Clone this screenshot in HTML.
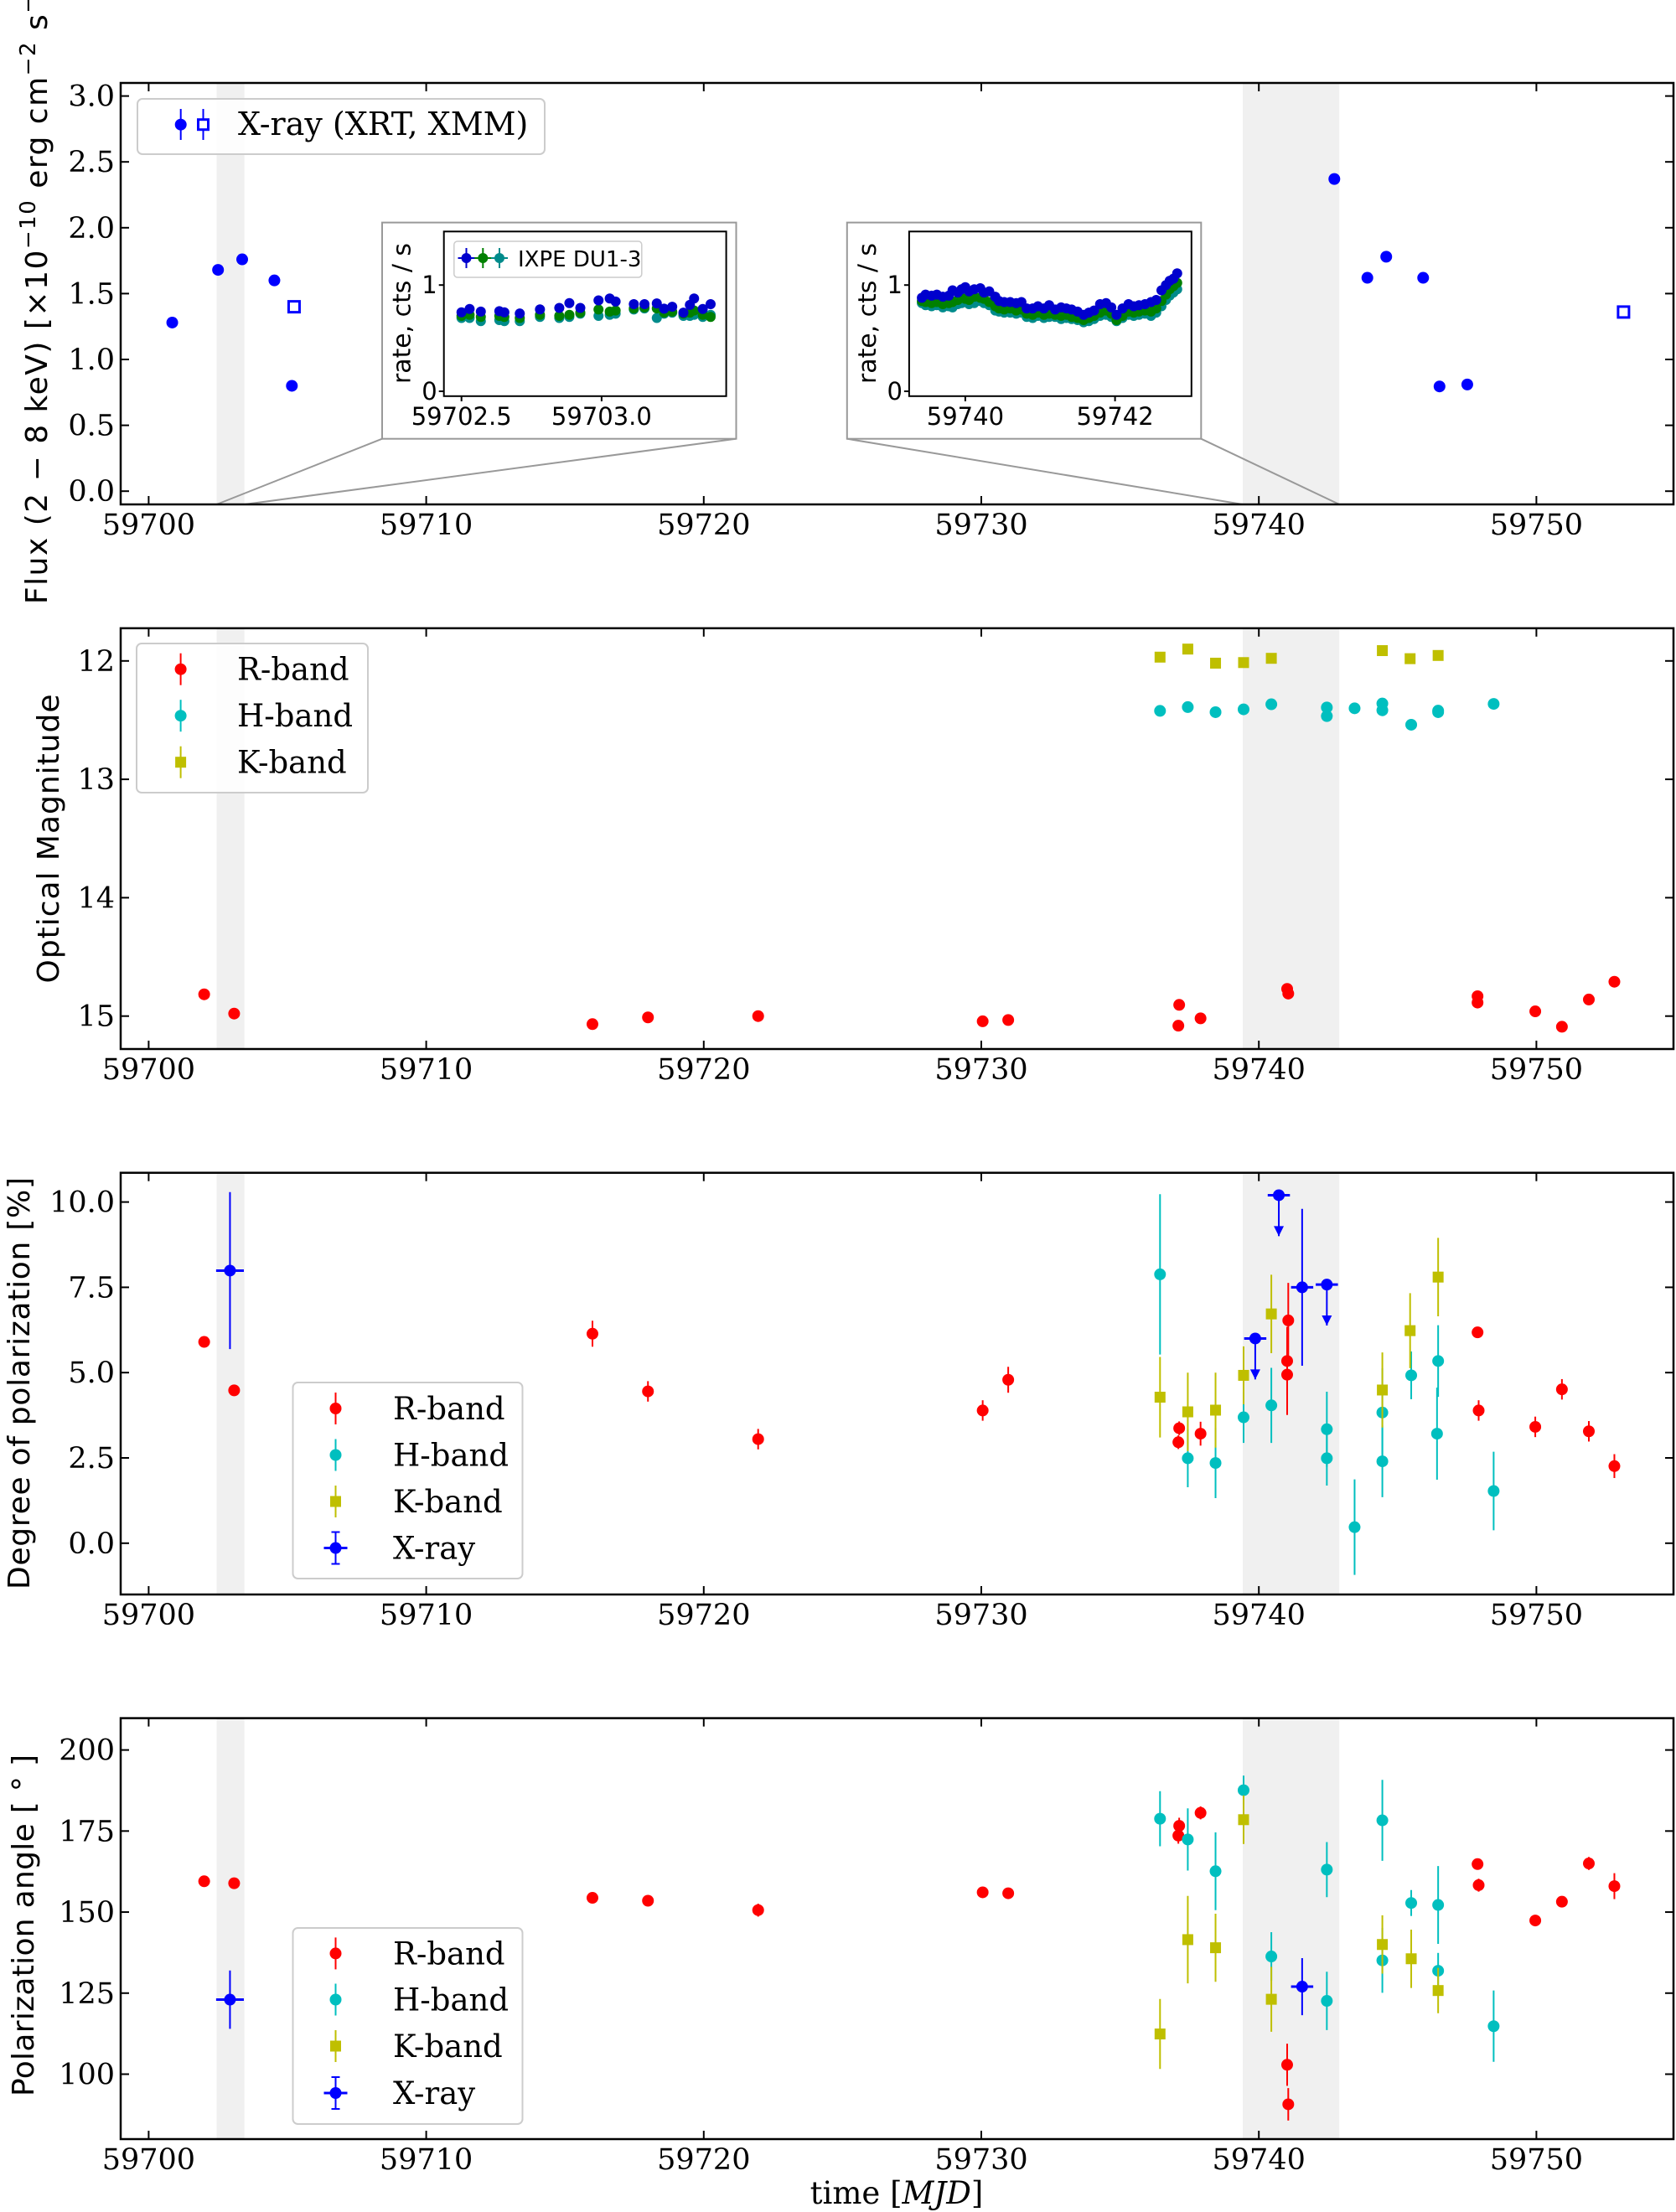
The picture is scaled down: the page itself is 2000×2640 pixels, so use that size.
<!DOCTYPE html>
<html><head><meta charset="utf-8"><style>
html,body{margin:0;padding:0;background:#fff;}
svg{display:block;}
.tk{font-family:"DejaVu Serif","Liberation Serif",serif;font-size:35px;fill:#000;}
.lg{font-family:"DejaVu Serif","Liberation Serif",serif;font-size:37px;fill:#000;}
.yl{font-family:"DejaVu Sans","Liberation Sans",sans-serif;font-size:36px;fill:#000;}
.it{font-family:"DejaVu Sans","Liberation Sans",sans-serif;font-size:29px;fill:#000;}
</style></head><body>
<svg id="fig" xmlns="http://www.w3.org/2000/svg" width="2000" height="2640" viewBox="0 0 2000 2640">
<rect x="0" y="0" width="2000" height="2640" fill="#fff"/>
</svg>
<script>
// ---- data ----
const xTicks = [59700, 59710, 59720, 59730, 59740, 59750];
const bandsShade = [[59702.45, 59703.45], [59739.42, 59742.9]];

const xrtT = [59700.85, 59702.5, 59703.37, 59704.53, 59705.16, 59742.72, 59743.91, 59744.59, 59745.92, 59746.51, 59747.51];
const xrtF = [1.28, 1.68, 1.76, 1.60, 0.80, 2.37, 1.62, 1.78, 1.62, 0.795, 0.81];
const xmmT = [59705.24, 59753.14];
const xmmF = [1.40, 1.36];
const fluxTicks = [0, 0.5, 1.0, 1.5, 2.0, 2.5, 3.0];
const fluxLabels = ["0.0", "0.5", "1.0", "1.5", "2.0", "2.5", "3.0"];

const in1T = [0, .029, .069, .135, .153, .208, .28, .349, .385, .424, .489, .529, .55, .615, .653, .697, .723, .752, .792, .815, .83, .861, .889];
const in1B = [.743, .775, .75, .754, .743, .732, .771, .785, .83, .785, .856, .873, .845, .82, .82, .827, .778, .796, .74, .813, .873, .775, .82];
const in1G = [.71, .72, .70, .71, .70, .69, .72, .71, .72, .74, .77, .75, .76, .78, .79, .78, .74, .75, .73, .74, .76, .72, .70];
const in1C = [.69, .69, .66, .67, .66, .66, .70, .69, .70, .73, .71, .72, .73, .77, .78, .69, .73, .74, .71, .71, .72, .70, .72];
const in2T = [59739.42, 59739.47, 59739.55, 59739.62, 59739.7, 59739.78, 59739.83, 59739.9, 59739.95, 59740.0, 59740.05, 59740.12, 59740.2, 59740.25, 59740.32, 59740.4, 59740.45, 59740.52, 59740.6, 59740.68, 59740.75, 59740.82, 59740.9, 59740.97, 59741.05, 59741.12, 59741.2, 59741.28, 59741.35, 59741.42, 59741.5, 59741.58, 59741.65, 59741.72, 59741.8, 59741.88, 59741.95, 59742.02, 59742.1, 59742.18, 59742.25, 59742.32, 59742.4, 59742.48, 59742.55, 59742.62, 59742.68, 59742.73, 59742.78, 59742.83];
const in2B = [.88, .91, .90, .91, .89, .90, .95, .93, .96, .98, .94, .96, .97, .93, .94, .89, .85, .84, .84, .83, .84, .78, .78, .80, .78, .81, .77, .79, .78, .77, .75, .72, .74, .76, .82, .83, .79, .72, .78, .82, .80, .81, .82, .84, .86, .95, 1.0, 1.04, 1.06, 1.11];
const in2G = [.85, .84, .83, .84, .82, .83, .84, .86, .88, .87, .86, .89, .88, .87, .84, .80, .78, .77, .78, .76, .77, .73, .72, .74, .72, .73, .72, .71, .72, .70, .69, .67, .69, .71, .74, .76, .73, .67, .71, .75, .74, .75, .76, .75, .78, .85, .91, .96, .99, 1.02];
const in2C = [.83, .81, .80, .81, .79, .80, .79, .82, .83, .84, .82, .83, .85, .83, .81, .76, .75, .74, .74, .73, .74, .70, .69, .71, .69, .70, .70, .68, .69, .68, .67, .65, .66, .68, .71, .72, .70, .66, .69, .72, .71, .72, .73, .71, .74, .80, .86, .90, .93, .96];

const magTicks = [12, 13, 14, 15];
const rMagT = [59702.0, 59703.08, 59715.99, 59717.99, 59721.96, 59730.05, 59730.97, 59737.1, 59737.13, 59737.9, 59741.02, 59741.06, 59747.88, 59747.88, 59749.96, 59750.92, 59751.89, 59752.81];
const rMag = [14.816, 14.979, 15.068, 15.011, 15.0, 15.044, 15.033, 15.081, 14.905, 15.019, 14.77, 14.81, 14.832, 14.886, 14.96, 15.09, 14.86, 14.71];
const hMagT = [59736.44, 59737.44, 59738.44, 59739.45, 59740.45, 59742.45, 59742.45, 59743.45, 59744.45, 59744.45, 59745.49, 59746.46, 59746.46, 59748.46];
const hMag = [12.422, 12.39, 12.433, 12.409, 12.366, 12.393, 12.466, 12.40, 12.36, 12.417, 12.539, 12.433, 12.42, 12.363];
const kMagT = [59736.44, 59737.44, 59738.44, 59739.45, 59740.45, 59744.45, 59745.45, 59746.46];
const kMag = [11.968, 11.90, 12.019, 12.014, 11.978, 11.913, 11.981, 11.954];

const pdTicks = [0, 2.5, 5, 7.5, 10];
const pdLabels = ["0.0", "2.5", "5.0", "7.5", "10.0"];
const rPdT = [59702.0, 59703.08, 59715.99, 59717.99, 59721.96, 59730.05, 59730.97, 59737.13, 59737.1, 59737.9, 59741.02, 59741.02, 59741.06, 59747.88, 59747.92, 59749.96, 59750.92, 59751.89, 59752.81];
const rPd = [5.90, 4.48, 6.14, 4.45, 3.05, 3.89, 4.79, 3.37, 2.96, 3.21, 4.94, 5.34, 6.53, 6.18, 3.89, 3.41, 4.51, 3.28, 2.26];
const rPdE = [0.12, 0.12, 0.38, 0.30, 0.30, 0.30, 0.38, 0.20, 0.20, 0.35, 1.18, 1.0, 1.1, 0.12, 0.30, 0.30, 0.30, 0.30, 0.35];
const hPdT = [59736.44, 59737.44, 59738.44, 59739.45, 59740.45, 59742.45, 59742.45, 59743.45, 59744.45, 59744.45, 59745.49, 59746.46, 59746.42, 59748.46];
const hPd = [7.88, 2.49, 2.35, 3.69, 4.04, 3.34, 2.49, 0.47, 2.40, 3.83, 4.92, 5.34, 3.21, 1.53];
const hPdE = [2.35, 0.85, 1.03, 0.75, 1.1, 1.1, 0.8, 1.4, 1.05, 1.3, 0.7, 1.05, 1.35, 1.15];
const kPdT = [59736.44, 59737.44, 59738.44, 59739.45, 59740.45, 59744.45, 59745.45, 59746.46];
const kPd = [4.28, 3.85, 3.90, 4.92, 6.72, 4.49, 6.23, 7.80];
const kPdE = [1.18, 1.15, 1.1, 0.85, 1.15, 1.1, 1.1, 1.15];
const xPdT = [59702.93, 59739.87, 59740.72, 59741.56, 59742.45];
const xPd = [7.99, 6.0, 10.2, 7.5, 7.58];
const xPdE = [2.3, 0, 0, 2.3, 0];
const xPdXE = [0.5, 0.4, 0.4, 0.4, 0.4];
const xPdUL = [false, true, true, false, true];

const paTicks = [100, 125, 150, 175, 200];
const rPaT = [59702.0, 59703.08, 59715.99, 59717.99, 59721.96, 59730.05, 59730.97, 59737.13, 59737.1, 59737.9, 59741.02, 59741.06, 59747.88, 59747.92, 59749.96, 59750.92, 59751.89, 59752.81];
const rPa = [159.5, 158.9, 154.4, 153.5, 150.6, 156.1, 155.8, 176.6, 173.6, 180.6, 102.9, 90.7, 164.8, 158.3, 147.4, 153.2, 165.0, 158.0];
const rPaE = [1, 1.5, 1.5, 1.5, 2, 1.5, 1.5, 2.5, 2.5, 2, 6.5, 5, 1.5, 2, 1.5, 1.5, 2, 4];
const hPaT = [59736.44, 59737.44, 59738.44, 59739.45, 59740.45, 59742.45, 59742.45, 59744.45, 59744.45, 59745.49, 59746.46, 59746.46, 59748.46];
const hPa = [178.8, 172.4, 162.6, 187.6, 136.3, 163.1, 122.6, 178.3, 135.1, 152.8, 152.2, 131.9, 114.8];
const hPaE = [8.5, 9.6, 12, 4.5, 7.5, 8.5, 9, 12.5, 10, 4, 12, 5.5, 11];
const kPaT = [59736.44, 59737.44, 59738.44, 59739.45, 59740.45, 59744.45, 59745.49, 59746.46];
const kPa = [112.4, 141.5, 139.0, 178.5, 123.1, 140.0, 135.6, 125.8];
const kPaE = [10.8, 13.5, 10.5, 7.5, 10, 9, 9, 7];
const xPaT = [59702.93, 59741.56];
const xPa = [123.0, 127.0];
const xPaE = [9, 8.8];
const xPaXE = [0.5, 0.4];

// ---- helpers ----
const NS = "http://www.w3.org/2000/svg";
const svg = document.getElementById("fig");
function mk(tag, attrs, parent) {
  const e = document.createElementNS(NS, tag);
  for (const k in attrs) e.setAttribute(k, attrs[k]);
  (parent || svg).appendChild(e);
  return e;
}
const RED = "#ff0000", CYAN = "#00bfbf", OLIVE = "#bfbf00", BLUE = "#0000ff";
const X0 = 144, X1 = 1997;
function xs(d) { return 177.4 + (d - 59700) * 33.12; }

function panel(name, top, bot, yf, ticks, labels) {
  const g = mk("g", {});
  
  
  bandsShade.forEach(b => {
    const r = mk("rect", { x: xs(b[0]), y: top, width: xs(b[1]) - xs(b[0]), height: bot - top, fill: "#f0f0f0" }, g);
    
    
  });
  xTicks.forEach(t => {
    const x = xs(t);
    mk("line", { x1: x, x2: x, y1: bot, y2: bot - 10, stroke: "#000", "stroke-width": 2 }, g);
    mk("line", { x1: x, x2: x, y1: top, y2: top + 10, stroke: "#000", "stroke-width": 2 }, g);
    const tx = mk("text", { x: x, y: bot + 36, "text-anchor": "middle", class: "tk" }, g);
    tx.textContent = t;
    
    
  });
  ticks.forEach((t, i) => {
    const y = yf(t);
    mk("line", { x1: X0, x2: X0 + 10, y1: y, y2: y, stroke: "#000", "stroke-width": 2 }, g);
    mk("line", { x1: X1, x2: X1 - 10, y1: y, y2: y, stroke: "#000", "stroke-width": 2 }, g);
    const tx = mk("text", { x: 137, y: y + 12, "text-anchor": "end", class: "tk" }, g);
    tx.textContent = labels[i];
    
    
  });
  return g;
}
function frame(g, top, bot) {
  const r = mk("rect", { x: X0, y: top, width: X1 - X0, height: bot - top, fill: "none", stroke: "#000", "stroke-width": 2.5 }, g);
  
  
}
function errY(g, x, y1, y2, col, w) {
  mk("line", { x1: x, x2: x, y1: y1, y2: y2, stroke: col, "stroke-width": w || 2 }, g);
}
function dot(g, x, y, col, r, nm) {
  const c = mk("circle", { cx: x, cy: y, r: r || 7, fill: col }, g);
  
  
  return c;
}
function sq(g, x, y, col, s, nm) {
  const c = mk("rect", { x: x - s / 2, y: y - s / 2, width: s, height: s, fill: col }, g);
  
  
  return c;
}
function series(g, T, V, E, yf, col, kind, nm) {
  T.forEach((t, i) => {
    const x = xs(t), y = yf(V[i]);
    if (E) errY(g, x, yf(V[i] - E[i]), yf(V[i] + E[i]), col, 2);
    if (kind === "sq") sq(g, x, y, col, 13, nm); else dot(g, x, y, col, 7, nm);
  });
}
function legendBox(g, x, y, w, h) {
  const r = mk("rect", { x: x, y: y, width: w, height: h, rx: 6, fill: "#fff", "fill-opacity": 0.85, stroke: "#cccccc", "stroke-width": 2 }, g);
  
  
}
function legendEntry(g, mx, tx, y, col, kind, label) {
  const e = mk("g", {}, g);
  
  
  errY(e, mx, y - 19, y + 19, col, 2);
  if (kind === "sq") sq(e, mx, y, col, 13, 'legend-marker');
  else if (kind === "x") {
    mk("line", { x1: mx - 14, x2: mx + 14, y1: y, y2: y, stroke: col, "stroke-width": 3 }, e);
    mk("line", { x1: mx - 5, x2: mx + 5, y1: y - 19, y2: y - 19, stroke: col, "stroke-width": 2 }, e);
    mk("line", { x1: mx - 5, x2: mx + 5, y1: y + 19, y2: y + 19, stroke: col, "stroke-width": 2 }, e);
    dot(e, mx, y, col, 7, 'legend-marker');
  } else dot(e, mx, y, col, 7, 'legend-marker');
  const t = mk("text", { x: tx, y: y + 13, class: "lg" }, e);
  t.textContent = label;
  
  
}
function ylabel(g, x, y, txt, len) {
  const t = mk("text", { x: x, y: y, class: "yl", "text-anchor": "middle", transform: "rotate(-90 " + x + " " + y + ")" }, g);
  if (len) { t.setAttribute("textLength", len); t.setAttribute("lengthAdjust", "spacing"); }
  t.textContent = txt;
  
  
  return t;
}

// ---- Panel 1: X-ray flux ----
(function () {
  const top = 99, bot = 602;
  const yf = v => 586.2 - v * 157.2;
  const g = panel("flux-panel", top, bot, yf, fluxTicks, fluxLabels);
  xrtT.forEach((t, i) => dot(g, xs(t), yf(xrtF[i]), BLUE, 7, 'xrt-point'));
  xmmT.forEach((t, i) => {
    const r = mk("rect", { x: xs(t) - 6.5, y: yf(xmmF[i]) - 6.5, width: 13, height: 13, fill: "#fff", stroke: BLUE, "stroke-width": 3 }, g);
    
    
  });
  const lc = "#999";
  mk("line", { x1: 456, y1: 523.7, x2: xs(bandsShade[0][0]), y2: bot, stroke: lc, "stroke-width": 2 }, g);
  mk("line", { x1: 878, y1: 523.7, x2: xs(bandsShade[0][1]), y2: bot, stroke: lc, "stroke-width": 2 }, g);
  mk("line", { x1: 1010.8, y1: 523.7, x2: xs(bandsShade[1][0]), y2: bot, stroke: lc, "stroke-width": 2 }, g);
  mk("line", { x1: 1433.3, y1: 523.7, x2: xs(bandsShade[1][1]), y2: bot, stroke: lc, "stroke-width": 2 }, g);
  frame(g, top, bot);
  legendBox(g, 164, 118, 486, 66);
  const le = mk("g", {}, g);
  
  
  errY(le, 215.7, 130, 167, BLUE, 2);
  dot(le, 215.7, 148.7, BLUE, 7, 'legend-marker');
  errY(le, 242.5, 130, 167, BLUE, 2);
  mk("rect", { x: 236.5, y: 142.7, width: 12, height: 12, fill: "#fff", stroke: BLUE, "stroke-width": 3 }, le);
  const lt = mk("text", { x: 284, y: 161, class: "lg", style: "font-size:38px" }, le);
  lt.textContent = "X-ray (XRT, XMM)";
  
  
  const yl = mk("text", { x: 56, y: 340, class: "yl", "text-anchor": "middle", "letter-spacing": "1.5", transform: "rotate(-90 56 340)" }, g);
  
  
  yl.innerHTML = 'Flux (2 − 8 keV) [×10<tspan dy="-14" font-size="26">−10</tspan><tspan dy="14"> erg cm</tspan><tspan dy="-14" font-size="26">−2</tspan><tspan dy="14"> s</tspan><tspan dy="-14" font-size="26">−1</tspan><tspan dy="14">]</tspan>';

  function inset(nm, ox, ax1, axr, T, B, G, C, ticks, tlabels, sc, withLegend) {
    const ig = mk("g", {}, g);
    
    
    mk("rect", { x: ox, y: 265.6, width: 422.5, height: 258.1, fill: "#fff", stroke: "#999", "stroke-width": 2 }, ig);
    const iy = v => 467 - v * 126.8;
    const ixs = d => ticks[0].px + (d - ticks[0].v) * sc;
    [[C, "#008b8b"], [G, "#008000"], [B, "#0000cd"]].forEach(([arr, col]) => {
      T.forEach((t, i) => {
        errY(ig, ixs(t), iy(arr[i] - 0.03), iy(arr[i] + 0.03), col, 1.5);
        const c = mk("circle", { cx: ixs(t), cy: iy(arr[i]), r: 6, fill: col }, ig);
        
        
      });
    });
    mk("rect", { x: ax1, y: 276.3, width: axr - ax1, height: 196.5, fill: "none", stroke: "#000", "stroke-width": 2 }, ig);
    [0, 1].forEach(v => {
      mk("line", { x1: ax1 - 6, x2: ax1, y1: iy(v), y2: iy(v), stroke: "#000", "stroke-width": 2 }, ig);
      const t = mk("text", { x: ax1 - 8, y: iy(v) + 10, "text-anchor": "end", class: "it" }, ig);
      t.textContent = v;
      
      
    });
    ticks.forEach((tk, i) => {
      mk("line", { x1: tk.px, x2: tk.px, y1: 472.8, y2: 479, stroke: "#000", "stroke-width": 2 }, ig);
      const t = mk("text", { x: tk.px, y: 507, "text-anchor": "middle", class: "it" }, ig);
      t.textContent = tlabels[i];
      
      
    });
    const yt = mk("text", { x: ax1 - 40, y: 374, "text-anchor": "middle", class: "it", textLength: 168, lengthAdjust: "spacingAndGlyphs", transform: "rotate(-90 " + (ax1 - 40) + " 374)" }, ig);
    yt.textContent = "rate, cts / s";
    
    
    if (withLegend) {
      mk("rect", { x: 541.8, y: 288, width: 224, height: 43, rx: 4, fill: "#fff", stroke: "#ccc", "stroke-width": 1.5 }, ig);
      [["#0000cd", 556.5], ["#008000", 576.3], ["#008b8b", 596]].forEach(([col, mx]) => {
        mk("line", { x1: mx - 10, x2: mx + 10, y1: 308, y2: 308, stroke: col, "stroke-width": 2 }, ig);
        errY(ig, mx, 296, 320, col, 2);
        mk("circle", { cx: mx, cy: 308, r: 6, fill: col }, ig);
      });
      const lt2 = mk("text", { x: 618, y: 318, class: "it", style: "font-size:26px" }, ig);
      lt2.textContent = "IXPE DU1-3";
      
      
    }
  }
  inset('inset-ixpe-1', 456, 529.7, 866.6, in1T.map(t => 59702.5 + t), in1B, in1G, in1C,
    [{ v: 59702.5, px: 550.7 }, { v: 59703.0, px: 717.9 }], ["59702.5", "59703.0"], 334.4, true);
  inset('inset-ixpe-2', 1010.8, 1084.9, 1421.8, in2T, in2B, in2G, in2C,
    [{ v: 59740, px: 1151.9 }, { v: 59742, px: 1330.6 }], ["59740", "59742"], 89.35, false);
})();

// ---- Panel 2: optical magnitude ----
(function () {
  const top = 749.8, bot = 1252;
  const yf = m => 788.8 + (m - 12) * 141.3;
  const g = panel("magnitude-panel", top, bot, yf, magTicks, magTicks.map(String));
  series(g, rMagT, rMag, rMag.map(() => 0.02), yf, RED, "dot", 'r-band-point');
  series(g, hMagT, hMag, hMag.map(() => 0.02), yf, CYAN, "dot", 'h-band-point');
  series(g, kMagT, kMag, kMag.map(() => 0.03), yf, OLIVE, "sq", 'k-band-point');
  frame(g, top, bot);
  legendBox(g, 163, 768, 276, 178);
  legendEntry(g, 215.6, 283, 798.7, RED, "dot", "R-band");
  legendEntry(g, 215.6, 283, 854.2, CYAN, "dot", "H-band");
  legendEntry(g, 215.6, 283, 909.7, OLIVE, "sq", "K-band");
  ylabel(g, 70, 1001, "Optical Magnitude", 345);
})();

// ---- Panel 3: degree of polarization ----
(function () {
  const top = 1399.7, bot = 1903;
  const yf = v => 1841.8 - v * 40.72;
  const g = panel("polarization-degree-panel", top, bot, yf, pdTicks, pdLabels);
  series(g, rPdT, rPd, rPdE, yf, RED, "dot", 'r-band-point');
  series(g, hPdT, hPd, hPdE, yf, CYAN, "dot", 'h-band-point');
  series(g, kPdT, kPd, kPdE, yf, OLIVE, "sq", 'k-band-point');
  xPdT.forEach((t, i) => {
    const x = xs(t), y = yf(xPd[i]);
    mk("line", { x1: xs(t - xPdXE[i]), x2: xs(t + xPdXE[i]), y1: y, y2: y, stroke: BLUE, "stroke-width": 3 }, g);
    if (xPdE[i] > 0) errY(g, x, yf(xPd[i] - xPdE[i]), yf(xPd[i] + xPdE[i]), BLUE, 2);
    if (xPdUL[i]) {
      const ye = yf(xPd[i] - 1.2);
      errY(g, x, y, ye, BLUE, 2);
      mk("path", { d: `M${x - 6},${ye - 12} L${x + 6},${ye - 12} L${x},${ye} Z`, fill: BLUE }, g);
    }
    dot(g, x, y, BLUE, 7, 'xray-point');
  });
  frame(g, top, bot);
  legendBox(g, 349.5, 1650, 274, 234);
  legendEntry(g, 400.5, 469, 1681, RED, "dot", "R-band");
  legendEntry(g, 400.5, 469, 1736.5, CYAN, "dot", "H-band");
  legendEntry(g, 400.5, 469, 1792, OLIVE, "sq", "K-band");
  legendEntry(g, 400.5, 469, 1847.5, BLUE, "x", "X-ray");
  ylabel(g, 35, 1651, "Degree of polarization [%]", 492);
})();

// ---- Panel 4: polarization angle ----
(function () {
  const top = 2050.6, bot = 2553;
  const yf = a => 2475.5 - (a - 100) * 3.869;
  const g = panel("polarization-angle-panel", top, bot, yf, paTicks, paTicks.map(String));
  series(g, rPaT, rPa, rPaE, yf, RED, "dot", 'r-band-point');
  series(g, hPaT, hPa, hPaE, yf, CYAN, "dot", 'h-band-point');
  series(g, kPaT, kPa, kPaE, yf, OLIVE, "sq", 'k-band-point');
  xPaT.forEach((t, i) => {
    const x = xs(t), y = yf(xPa[i]);
    mk("line", { x1: xs(t - xPaXE[i]), x2: xs(t + xPaXE[i]), y1: y, y2: y, stroke: BLUE, "stroke-width": 3 }, g);
    errY(g, x, yf(xPa[i] - xPaE[i]), yf(xPa[i] + xPaE[i]), BLUE, 2);
    dot(g, x, y, BLUE, 7, 'xray-point');
  });
  frame(g, top, bot);
  legendBox(g, 349.5, 2301, 274, 234);
  legendEntry(g, 400.5, 469, 2331.4, RED, "dot", "R-band");
  legendEntry(g, 400.5, 469, 2386.5, CYAN, "dot", "H-band");
  legendEntry(g, 400.5, 469, 2442, OLIVE, "sq", "K-band");
  legendEntry(g, 400.5, 469, 2498, BLUE, "x", "X-ray");
  ylabel(g, 40, 2298, "Polarization angle [ ° ]", 408);
  const xl = mk("text", { x: 1070, y: 2630, "text-anchor": "middle", class: "lg" }, g);
  xl.innerHTML = 'time [<tspan font-style="italic">MJD</tspan>]';
  
  
})();
</script>
</body></html>
